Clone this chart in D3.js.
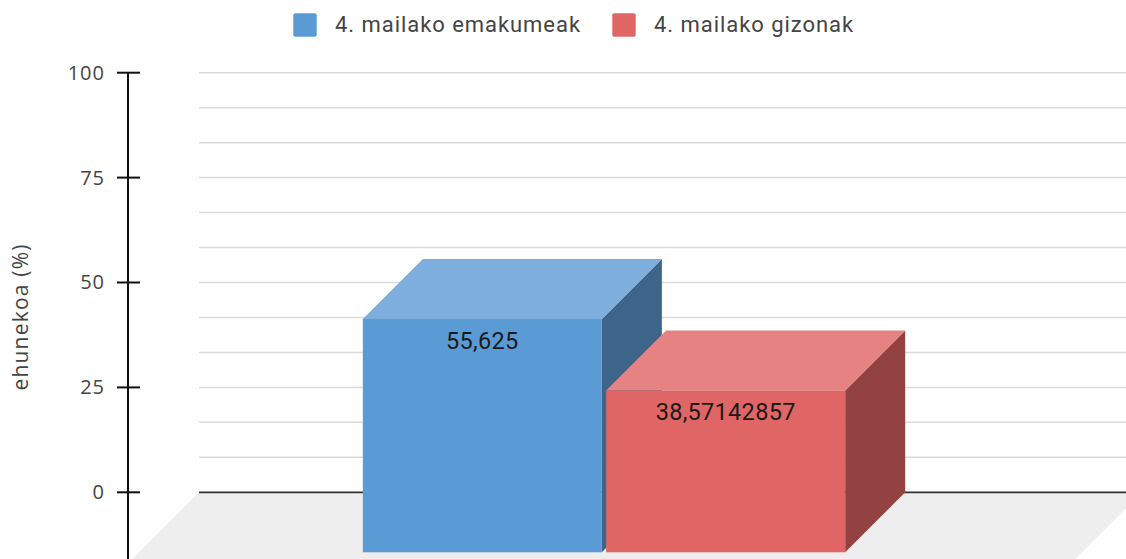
<!DOCTYPE html>
<html>
<head>
<meta charset="utf-8">
<script src="https://cdn.jsdelivr.net/npm/d3@7/dist/d3.min.js"></script>
<style>
  html, body { margin: 0; padding: 0; background: #fff; }
  svg { display: block; }
</style>
</head>
<body>
<svg id="chart" width="1126" height="559"></svg>
<script>
// ---- data ----
const categories = ["4. maila"];
const seriesNames = ["4. mailako emakumeak", "4. mailako gizonak"];
const seriesValues = [55.625, 38.57142857];
const valueLabels = ["55,625", "38,57142857"];
const yTicks = [0, 25, 50, 75, 100];
const yTickLabels = ["0", "25", "50", "75", "100"];
const yTitle = "ehunekoa (%)";

// ---- style ----
const frontColors = ["#5B9BD5", "#E06666"];
const topColors = ["#7DAEDD", "#E58383"];
const sideColors = ["#3D6589", "#934141"];

const W = 1126, H = 559;
const depth = 60;              // 3D offset (px) in x and y
const backLeft = 199, backRight = 1129;
const svg = d3.select("#chart");

const y = d3.scaleLinear().domain([0, 100]).range([492.3, 72.7]);
const x0 = d3.scaleBand().domain(categories).range([backLeft, backRight])
  .paddingInner(0).paddingOuter(0.464);
const x1 = d3.scaleBand().domain(seriesNames).range([0, x0.bandwidth()])
  .paddingInner(0.0177).paddingOuter(0);

// floor
const y0 = y(0);
const floorDepth = 80;
svg.append("polygon")
  .attr("points", [
    [backLeft, y0], [1142, y0],
    [1142 - floorDepth, y0 + floorDepth], [backLeft - floorDepth, y0 + floorDepth]
  ].map(p => p.join(",")).join(" "))
  .attr("fill", "#EEEEEE");

// gridlines (12 divisions)
const gridVals = d3.range(0, 13).map(i => i * 100 / 12);
svg.append("g").selectAll("line").data(gridVals.filter(v => v > 0)).join("line")
  .attr("x1", backLeft).attr("x2", W)
  .attr("y1", d => y(d)).attr("y2", d => y(d))
  .attr("stroke", "#DADADA").attr("stroke-width", 1.5);

// zero line
svg.append("line")
  .attr("x1", backLeft).attr("x2", W).attr("y1", y0).attr("y2", y0)
  .attr("stroke", "#333").attr("stroke-width", 1.8);

// bars (3D)
const bars = svg.append("g");
seriesNames.forEach((s, i) => {
  const bx = x0(categories[0]) + x1(s);       // back plane left
  const bw = x1.bandwidth();
  const by = y(seriesValues[i]);               // back plane top
  const fx = bx - depth, fyTop = by + depth, fyBot = y0 + depth;
  const g = bars.append("g");
  // side face
  g.append("polygon").attr("points", [
    [fx + bw, fyTop], [bx + bw, by], [bx + bw, y0], [fx + bw, fyBot]
  ].map(p => p.join(",")).join(" ")).attr("fill", sideColors[i]);
  // top face
  g.append("polygon").attr("points", [
    [fx, fyTop], [bx, by], [bx + bw, by], [fx + bw, fyTop]
  ].map(p => p.join(",")).join(" ")).attr("fill", topColors[i]);
  // front face
  g.append("rect").attr("x", fx).attr("y", fyTop)
    .attr("width", bw).attr("height", fyBot - fyTop)
    .attr("fill", frontColors[i]);
  // value label
  g.append("text")
    .attr("x", fx + bw / 2).attr("y", fyTop + 30)
    .attr("text-anchor", "middle")
    .attr("font-family", "Roboto, sans-serif")
    .attr("font-size", 23.5)
    .attr("letter-spacing", 0.3)
    .attr("fill", "#1a1a1a")
    .text(valueLabels[i]);
});

// y axis
const axisX = 128;
svg.append("line").attr("x1", axisX).attr("x2", axisX)
  .attr("y1", y(100)).attr("y2", H)
  .attr("stroke", "#111").attr("stroke-width", 2);
const axis = d3.axisLeft(y).tickValues(yTicks)
  .tickFormat((d, i) => yTickLabels[i]).tickSize(0).tickPadding(23);
const ag = svg.append("g").attr("transform", `translate(${axisX},0)`).call(axis);
ag.select(".domain").remove();
ag.selectAll("text")
  .attr("font-family", "'Open Sans', sans-serif")
  .attr("font-size", 20)
  .attr("letter-spacing", 1)
  .attr("fill", "#444");
svg.append("g").selectAll("line").data(yTicks).join("line")
  .attr("x1", axisX - 11).attr("x2", axisX + 12)
  .attr("y1", d => y(d)).attr("y2", d => y(d))
  .attr("stroke", "#111").attr("stroke-width", 2);

// axis title
svg.append("text")
  .attr("transform", `translate(28,317) rotate(-90)`)
  .attr("text-anchor", "middle")
  .attr("font-family", "'Open Sans', sans-serif")
  .attr("font-size", 21)
  .attr("letter-spacing", 1.2)
  .attr("fill", "#444")
  .text(yTitle);

// legend
const legendX = [293.3, 612.3];
const lg = svg.append("g");
seriesNames.forEach((s, i) => {
  lg.append("rect").attr("x", legendX[i]).attr("y", 13.3)
    .attr("width", 23.4).attr("height", 23.4).attr("rx", 2)
    .attr("fill", frontColors[i]);
  lg.append("text").attr("x", legendX[i] + 41.7).attr("y", 31.7)
    .attr("font-family", "Roboto, sans-serif")
    .attr("font-size", 22)
    .attr("letter-spacing", 0.95)
    .attr("fill", "#444")
    .text(s);
});
</script>
</body>
</html>
